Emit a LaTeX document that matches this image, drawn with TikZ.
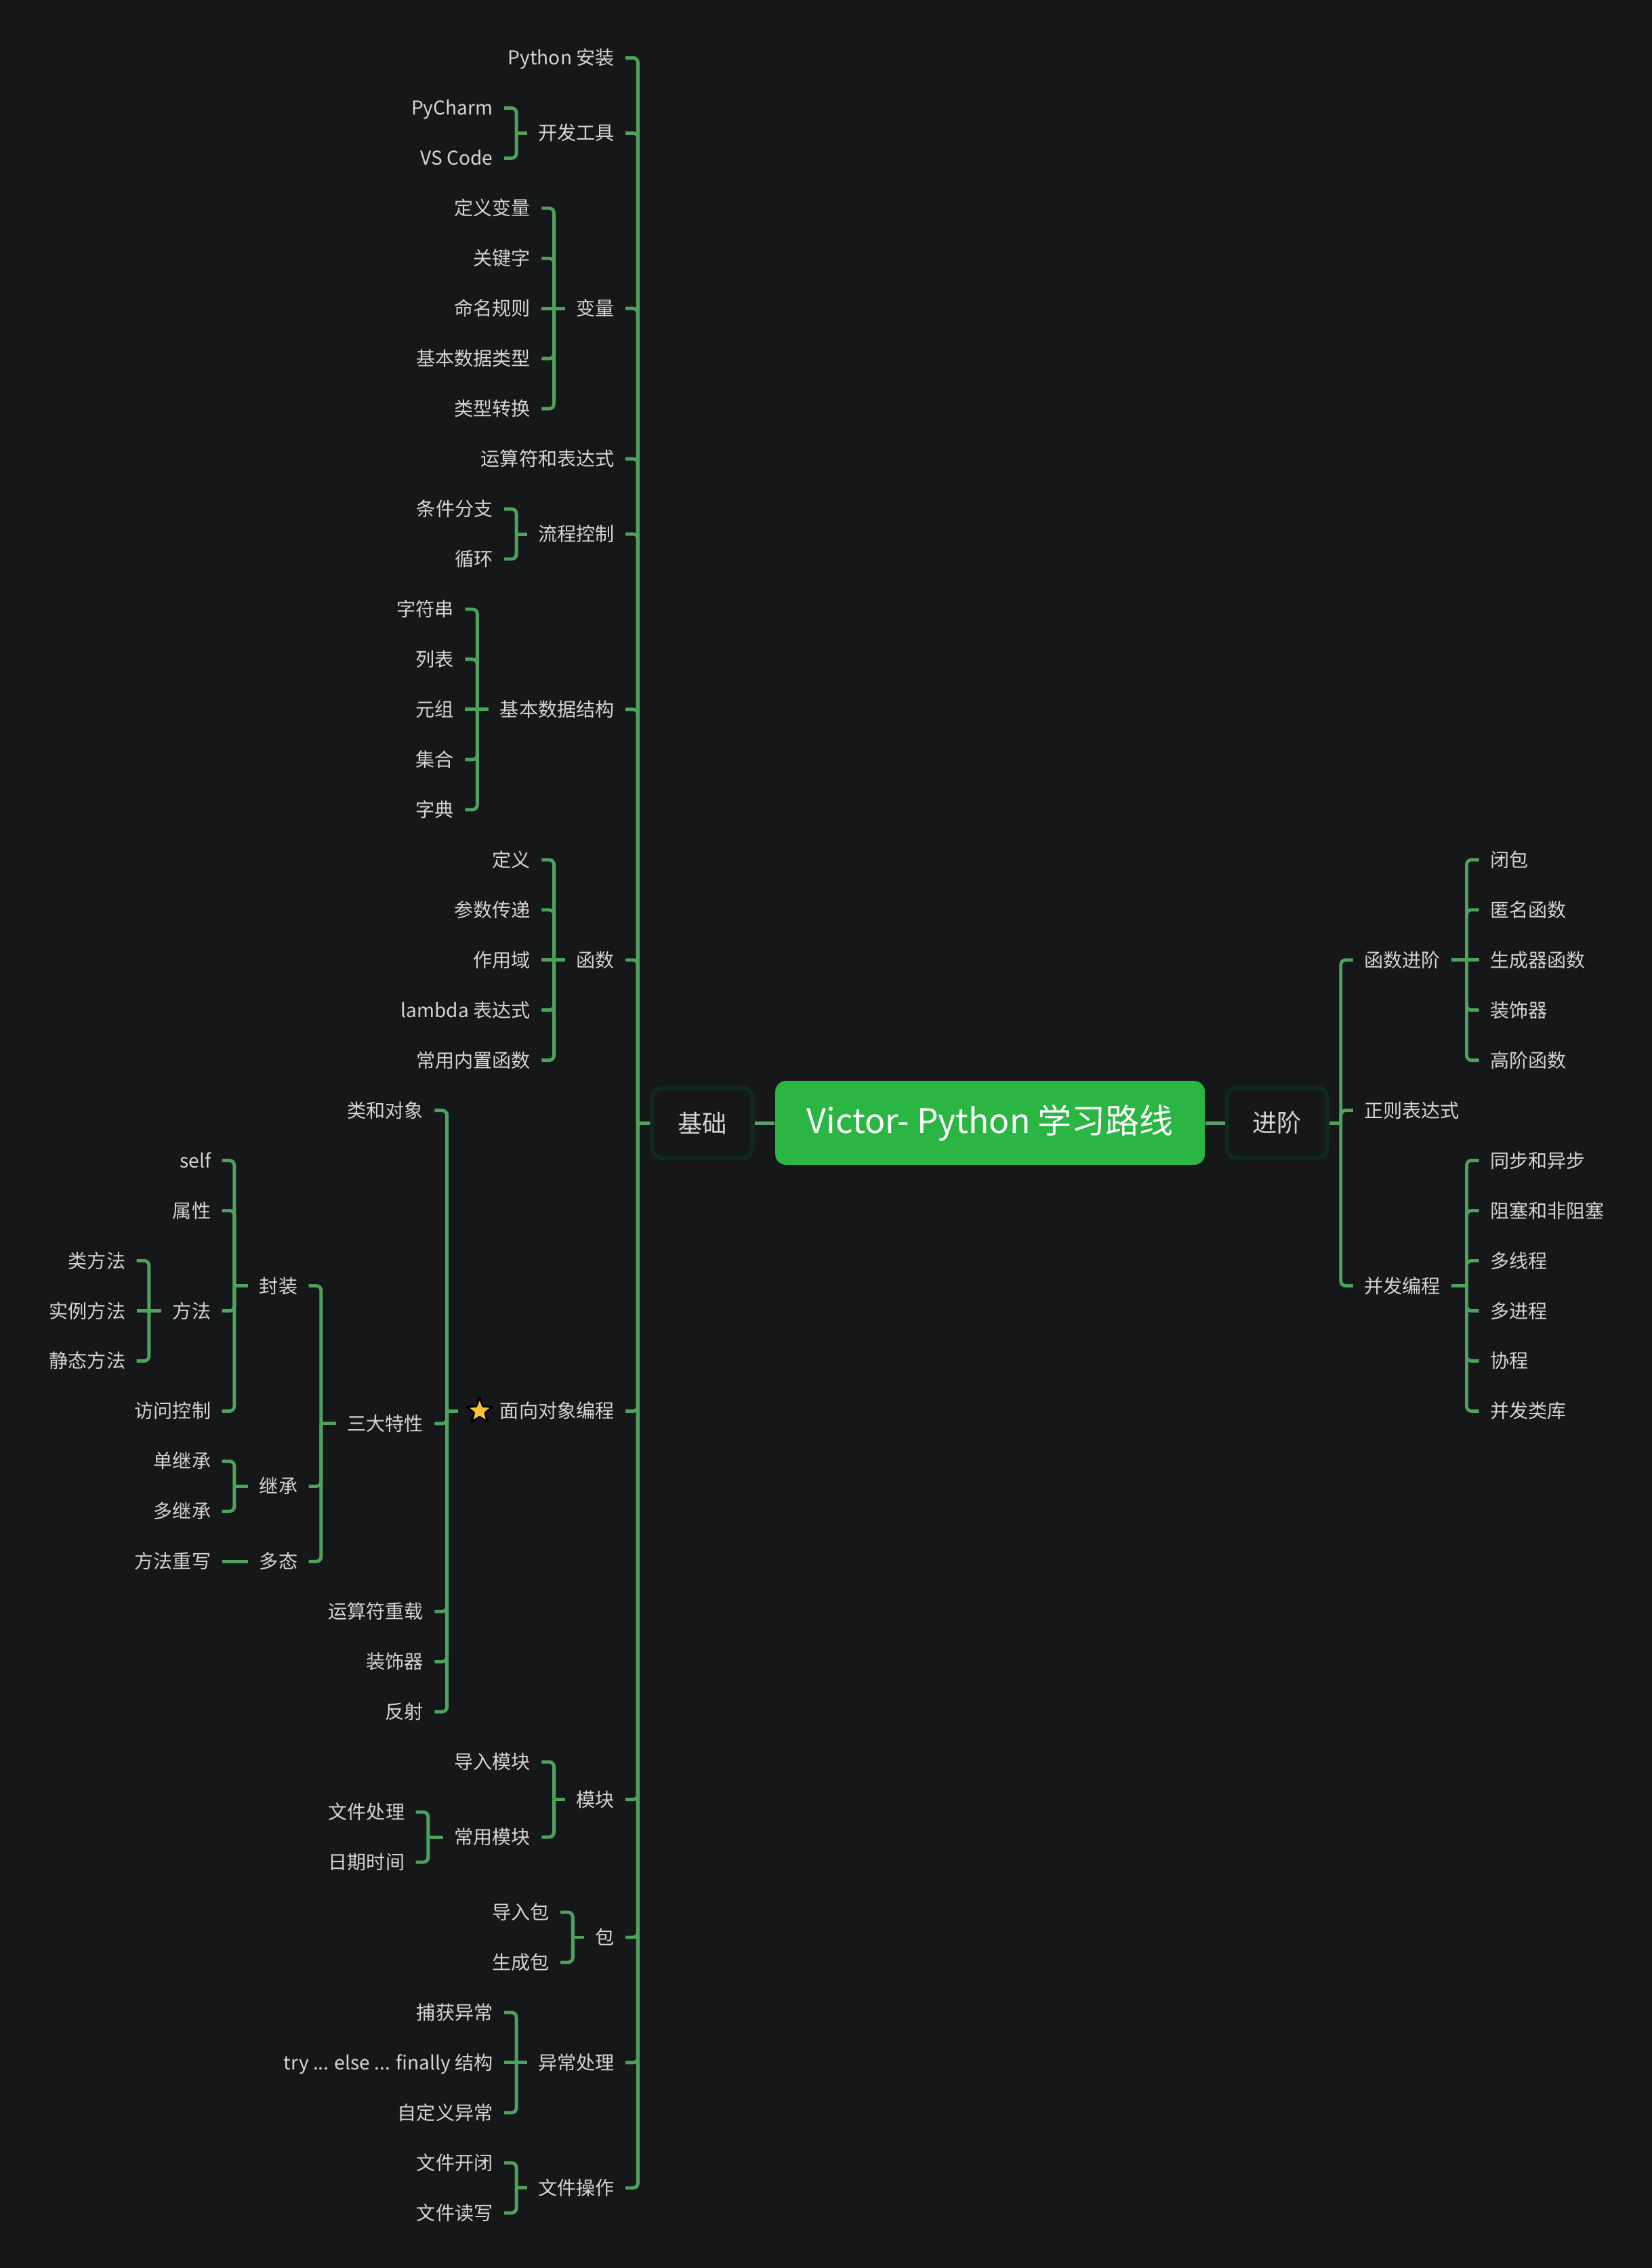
\documentclass[tikz,border=0pt]{standalone}
\usepackage{fontspec}
\setmainfont{Noto Sans CJK SC}
\usetikzlibrary{shapes.geometric,calc}
\definecolor{bg}{HTML}{161719}
\definecolor{ln}{HTML}{4DA35E}
\definecolor{lk}{HTML}{5A9E6C}
\definecolor{tx}{HTML}{D4D4D4}
\definecolor{ctrg}{HTML}{2BB644}
\definecolor{bxb}{HTML}{10281E}
\definecolor{stary}{HTML}{F7C331}
\newcommand\myrow[1]{40+34.65*(#1)}
\begin{document}
\begin{tikzpicture}[x=0.021349cm,y=-0.021349cm,
  lbl/.style={text=tx, font=\fontsize{8}{9.6}\selectfont, inner xsep=4.5pt, inner ysep=1pt, text height=7pt, text depth=1pt},
  L/.style={lbl, anchor=east},
  R/.style={lbl, anchor=west},
  conn/.style={draw=ln, line width=1.4pt, rounded corners=2pt},
  link/.style={draw=lk, line width=1.4pt},
  topic/.style={draw=bxb, line width=1.8pt, fill=bg, rounded corners=4pt, minimum width=1.48cm, minimum height=1.03cm, text=tx, font=\fontsize{10.3}{12}\selectfont, inner sep=0pt},
  ctrbox/.style={fill=ctrg, rounded corners=4.5pt, minimum width=6.34cm, minimum height=1.238cm, text=white, font=\fontsize{14.2}{16}\selectfont, inner sep=0pt},
  starsty/.style={star, star points=5, star point ratio=2.3, minimum size=0.4cm, inner sep=0pt, fill=stary, draw=black, line width=0.9pt, line join=round}
]
\useasboundingbox (0,0) rectangle (1142,1568);
\fill[bg] (0,0) rectangle (1142,1568);

% ---- centre ----
\node[ctrbox] (ctr) at (684.5,{\myrow{21.25}}) {Victor- Python 学习路线};
\node[topic] (jc) at (485.5,{\myrow{21.25}}) {基础};
\node[topic] (jj) at (883,{\myrow{21.25}}) {进阶};
\draw[link] (ctr.west) -- (jc.east);
\draw[link] (ctr.east) -- (jj.west);

% ---- level 1 (left) ----
\node[L] (py)   at (432.5,{\myrow{0}})     {Python 安装};
\node[L] (dev)  at (432.5,{\myrow{1.5}})   {开发工具};
\node[L] (var)  at (432.5,{\myrow{5}})     {变量};
\node[L] (op)   at (432.5,{\myrow{8}})     {运算符和表达式};
\node[L] (flow) at (432.5,{\myrow{9.5}})   {流程控制};
\node[L] (ds)   at (432.5,{\myrow{13}})    {基本数据结构};
\node[L] (fn)   at (432.5,{\myrow{18}})    {函数};
\node[L] (oop)  at (432.5,{\myrow{27}})    {\hspace{13pt}面向对象编程};
\node[starsty] (oopstar) at ([xshift=0.32cm]oop.west) {};
\node[L] (mod)  at (432.5,{\myrow{34.75}}) {模块};
\node[L] (pkg)  at (432.5,{\myrow{37.5}})  {包};
\node[L] (exc)  at (432.5,{\myrow{40}})    {异常处理};
\node[L] (fio)  at (432.5,{\myrow{42.5}})  {文件操作};

\coordinate (jcb) at (441,{\myrow{21.25}});
\draw[conn] (jc.west) -- (jcb);
\foreach \c in {py,dev,var,op,flow,ds,fn,oop,mod,pkg,exc,fio} \draw[conn] (jcb) |- (\c.east);

% 开发工具
\node[L] (pych) at (348.5,{\myrow{1}}) {PyCharm};
\node[L] (vsc)  at (348.5,{\myrow{2}}) {VS Code};
\coordinate (devb) at (357,{\myrow{1.5}});
\draw[conn] (dev.west) -- (devb);
\foreach \c in {pych,vsc} \draw[conn] (devb) |- (\c.east);

% 变量
\node[L] (v1) at (374.5,{\myrow{3}}) {定义变量};
\node[L] (v2) at (374.5,{\myrow{4}}) {关键字};
\node[L] (v3) at (374.5,{\myrow{5}}) {命名规则};
\node[L] (v4) at (374.5,{\myrow{6}}) {基本数据类型};
\node[L] (v5) at (374.5,{\myrow{7}}) {类型转换};
\coordinate (varb) at (383,{\myrow{5}});
\draw[conn] (var.west) -- (varb);
\draw[conn] (varb) -- (v3.east);
\foreach \c in {v1,v2,v4,v5} \draw[conn] (varb) |- (\c.east);

% 流程控制
\node[L] (f1) at (348.5,{\myrow{9}})  {条件分支};
\node[L] (f2) at (348.5,{\myrow{10}}) {循环};
\coordinate (flowb) at (357,{\myrow{9.5}});
\draw[conn] (flow.west) -- (flowb);
\foreach \c in {f1,f2} \draw[conn] (flowb) |- (\c.east);

% 基本数据结构
\node[L] (d1) at (321.5,{\myrow{11}}) {字符串};
\node[L] (d2) at (321.5,{\myrow{12}}) {列表};
\node[L] (d3) at (321.5,{\myrow{13}}) {元组};
\node[L] (d4) at (321.5,{\myrow{14}}) {集合};
\node[L] (d5) at (321.5,{\myrow{15}}) {字典};
\coordinate (dsb) at (330,{\myrow{13}});
\draw[conn] (ds.west) -- (dsb);
\draw[conn] (dsb) -- (d3.east);
\foreach \c in {d1,d2,d4,d5} \draw[conn] (dsb) |- (\c.east);

% 函数
\node[L] (g1) at (374.5,{\myrow{16}}) {定义};
\node[L] (g2) at (374.5,{\myrow{17}}) {参数传递};
\node[L] (g3) at (374.5,{\myrow{18}}) {作用域};
\node[L] (g4) at (374.5,{\myrow{19}}) {lambda 表达式};
\node[L] (g5) at (374.5,{\myrow{20}}) {常用内置函数};
\coordinate (fnb) at (383,{\myrow{18}});
\draw[conn] (fn.west) -- (fnb);
\draw[conn] (fnb) -- (g3.east);
\foreach \c in {g1,g2,g4,g5} \draw[conn] (fnb) |- (\c.east);

% 面向对象编程
\node[L] (o1) at (300.5,{\myrow{21}})    {类和对象};
\node[L] (o2) at (300.5,{\myrow{27.25}}) {三大特性};
\node[L] (o3) at (300.5,{\myrow{31}})    {运算符重载};
\node[L] (o4) at (300.5,{\myrow{32}})    {装饰器};
\node[L] (o5) at (300.5,{\myrow{33}})    {反射};
\coordinate (oopb) at (309,{\myrow{27}});
\draw[conn] (oop.west) -- (oopb);
\foreach \c in {o1,o2,o3,o4,o5} \draw[conn] (oopb) |- (\c.east);

% 三大特性
\node[L] (enc)  at (213.5,{\myrow{24.5}}) {封装};
\node[L] (inh)  at (213.5,{\myrow{28.5}}) {继承};
\node[L] (poly) at (213.5,{\myrow{30}})   {多态};
\coordinate (o2b) at (222,{\myrow{27.25}});
\draw[conn] (o2.west) -- (o2b);
\foreach \c in {enc,inh,poly} \draw[conn] (o2b) |- (\c.east);

% 封装
\node[L] (e1) at (153.5,{\myrow{22}}) {self};
\node[L] (e2) at (153.5,{\myrow{23}}) {属性};
\node[L] (e3) at (153.5,{\myrow{25}}) {方法};
\node[L] (e4) at (153.5,{\myrow{27}}) {访问控制};
\coordinate (encb) at (162,{\myrow{24.5}});
\draw[conn] (enc.west) -- (encb);
\foreach \c in {e1,e2,e3,e4} \draw[conn] (encb) |- (\c.east);

% 方法
\node[L] (m1) at (94.5,{\myrow{24}}) {类方法};
\node[L] (m2) at (94.5,{\myrow{25}}) {实例方法};
\node[L] (m3) at (94.5,{\myrow{26}}) {静态方法};
\coordinate (e3b) at (103,{\myrow{25}});
\draw[conn] (e3.west) -- (e3b);
\draw[conn] (e3b) -- (m2.east);
\foreach \c in {m1,m3} \draw[conn] (e3b) |- (\c.east);

% 继承
\node[L] (i1) at (153.5,{\myrow{28}}) {单继承};
\node[L] (i2) at (153.5,{\myrow{29}}) {多继承};
\coordinate (inhb) at (162,{\myrow{28.5}});
\draw[conn] (inh.west) -- (inhb);
\foreach \c in {i1,i2} \draw[conn] (inhb) |- (\c.east);

% 多态
\node[L] (p1) at (153.5,{\myrow{30}}) {方法重写};
\draw[conn] (poly.west) -- (p1.east);

% 模块
\node[L] (mo1) at (374.5,{\myrow{34}})   {导入模块};
\node[L] (mo2) at (374.5,{\myrow{35.5}}) {常用模块};
\coordinate (modb) at (383,{\myrow{34.75}});
\draw[conn] (mod.west) -- (modb);
\foreach \c in {mo1,mo2} \draw[conn] (modb) |- (\c.east);

\node[L] (mo3) at (287.5,{\myrow{35}}) {文件处理};
\node[L] (mo4) at (287.5,{\myrow{36}}) {日期时间};
\coordinate (mo2b) at (296,{\myrow{35.5}});
\draw[conn] (mo2.west) -- (mo2b);
\foreach \c in {mo3,mo4} \draw[conn] (mo2b) |- (\c.east);

% 包
\node[L] (pk1) at (387.5,{\myrow{37}}) {导入包};
\node[L] (pk2) at (387.5,{\myrow{38}}) {生成包};
\coordinate (pkgb) at (396,{\myrow{37.5}});
\draw[conn] (pkg.west) -- (pkgb);
\foreach \c in {pk1,pk2} \draw[conn] (pkgb) |- (\c.east);

% 异常处理
\node[L] (x1) at (348.5,{\myrow{39}}) {捕获异常};
\node[L] (x2) at (348.5,{\myrow{40}}) {try ... else ... finally 结构};
\node[L] (x3) at (348.5,{\myrow{41}}) {自定义异常};
\coordinate (excb) at (357,{\myrow{40}});
\draw[conn] (exc.west) -- (excb);
\draw[conn] (excb) -- (x2.east);
\foreach \c in {x1,x3} \draw[conn] (excb) |- (\c.east);

% 文件操作
\node[L] (fo1) at (348.5,{\myrow{42}}) {文件开闭};
\node[L] (fo2) at (348.5,{\myrow{43}}) {文件读写};
\coordinate (fiob) at (357,{\myrow{42.5}});
\draw[conn] (fio.west) -- (fiob);
\foreach \c in {fo1,fo2} \draw[conn] (fiob) |- (\c.east);

% ---- right side ----
\node[R] (r1) at (935.5,{\myrow{18}})   {函数进阶};
\node[R] (r2) at (935.5,{\myrow{21}})   {正则表达式};
\node[R] (r3) at (935.5,{\myrow{24.5}}) {并发编程};
\coordinate (jjb) at (927,{\myrow{21.25}});
\draw[conn] (jj.east) -- (jjb);
\foreach \c in {r1,r2,r3} \draw[conn] (jjb) |- (\c.west);

\node[R] (a1) at (1022.5,{\myrow{16}}) {闭包};
\node[R] (a2) at (1022.5,{\myrow{17}}) {匿名函数};
\node[R] (a3) at (1022.5,{\myrow{18}}) {生成器函数};
\node[R] (a4) at (1022.5,{\myrow{19}}) {装饰器};
\node[R] (a5) at (1022.5,{\myrow{20}}) {高阶函数};
\coordinate (r1b) at (1014,{\myrow{18}});
\draw[conn] (r1.east) -- (r1b);
\draw[conn] (r1b) -- (a3.west);
\foreach \c in {a1,a2,a4,a5} \draw[conn] (r1b) |- (\c.west);

\node[R] (c1) at (1022.5,{\myrow{22}}) {同步和异步};
\node[R] (c2) at (1022.5,{\myrow{23}}) {阻塞和非阻塞};
\node[R] (c3) at (1022.5,{\myrow{24}}) {多线程};
\node[R] (c4) at (1022.5,{\myrow{25}}) {多进程};
\node[R] (c5) at (1022.5,{\myrow{26}}) {协程};
\node[R] (c6) at (1022.5,{\myrow{27}}) {并发类库};
\coordinate (r3b) at (1014,{\myrow{24.5}});
\draw[conn] (r3.east) -- (r3b);
\foreach \c in {c1,c2,c3,c4,c5,c6} \draw[conn] (r3b) |- (\c.west);
\end{tikzpicture}
\end{document}
